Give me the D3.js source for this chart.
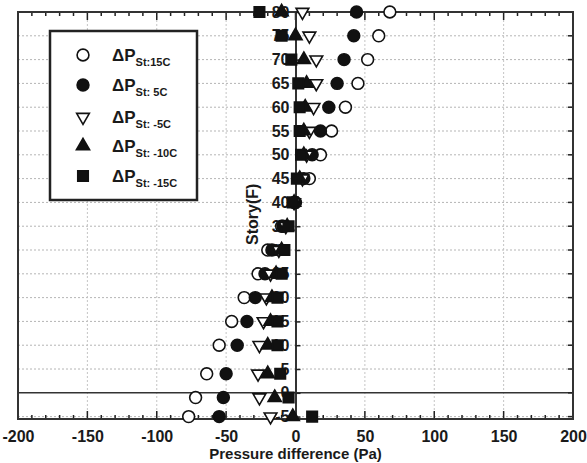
<!DOCTYPE html>
<html>
<head>
<meta charset="utf-8">
<script src="https://cdn.jsdelivr.net/npm/d3@7"></script>
<style>
  body { margin: 0; background: #fff; }
  svg { display: block; font-family: "Liberation Sans", Arial, sans-serif; }
  .tick text { font-weight: bold; fill: #1a1a1a; }
</style>
</head>
<body>
<div id="chart"></div>
<script>
// Stories (floor levels) and pressure difference per outdoor temperature (Pa)
var stories = [80, 75, 70, 65, 60, 55, 50, 45, 40, 35, 30, 25, 20, 15, 10, 4, -1, -5];
var dp15  = [68, 60, 52, 45, 36, 26, 18, 10, -1, -10, -20, -27, -37, -46, -55, -64, -72, -77];
var dp5   = [44, 42, 35, 30, 24, 18, 12, 6, 0, -9, -17, -22, -29, -35, -42, -50, -52, -55];
var dpm5  = [5, 10, 15, 15, 13, 10, 8, 5, -1, -7, -12, -18, -21, -23, -26, -27, -26, -18];
var dpm10 = [-10, 0, 6, 8, 7, 6, 6, 3, -1, -6, -10, -14, -17, -18, -20, -20, -15, -2];
var dpm15 = [-26, -10, -3, 2, 3, 3, 4, 1, -2, -5, -8, -10, -13, -13, -13, -11, -5, 12];

var seriesNames = ["St:15C", "St: 5C", "St: -5C", "St: -10C", "St: -15C"];
var xTicks = [-200, -150, -100, -50, 0, 50, 100, 150, 200];
var yTicks = [-5, 0, 5, 10, 15, 20, 25, 30, 35, 40, 45, 50, 55, 60, 65, 70, 75, 80];

var width = 587, height = 463;
var margin = {top: 12, right: 14, bottom: 44, left: 18};

var svg = d3.select("#chart").append("svg")
  .attr("width", width)
  .attr("height", height);

var x = d3.scaleLinear().domain([-200, 200]).range([margin.left, width - margin.right]);
var y = d3.scaleLinear().domain([-5.5, 80]).range([height - margin.bottom, margin.top]);

// plain hyphen for negatives, like the original
var plain = function(d) { return String(d); };

// series table
var series = [
  {name: seriesNames[0], values: dp15,  type: d3.symbolCircle,   size: 110, fill: "#fff", rot: 0},
  {name: seriesNames[1], values: dp5,   type: d3.symbolCircle,   size: 110, fill: "#111", rot: 0},
  {name: seriesNames[2], values: dpm5,  type: d3.symbolTriangle, size: 70,  fill: "#fff", rot: 180},
  {name: seriesNames[3], values: dpm10, type: d3.symbolTriangle, size: 75,  fill: "#111", rot: 0},
  {name: seriesNames[4], values: dpm15, type: d3.symbolSquare,   size: 110, fill: "#111", rot: 0}
];

// grid
var grid = svg.append("g").attr("class", "grid");
grid.selectAll("line.h")
  .data(yTicks.filter(function(d) { return d !== 0 && d !== 80; }))
  .enter().append("line")
  .attr("x1", x(-200)).attr("x2", x(200))
  .attr("y1", function(d) { return y(d); })
  .attr("y2", function(d) { return y(d); })
  .attr("stroke", "#b5b5b5")
  .attr("stroke-width", 1)
  .attr("stroke-dasharray", "2,2");
grid.selectAll("line.v")
  .data(xTicks.filter(function(d) { return Math.abs(d) !== 200 && d !== 0; }))
  .enter().append("line")
  .attr("x1", function(d) { return x(d); })
  .attr("x2", function(d) { return x(d); })
  .attr("y1", y(80)).attr("y2", y(-5.5))
  .attr("stroke", "#c4c4c4")
  .attr("stroke-width", 1)
  .attr("stroke-dasharray", "2,2");

// ground line
svg.append("line")
  .attr("x1", x(-200)).attr("x2", x(200))
  .attr("y1", y(0)).attr("y2", y(0))
  .attr("stroke", "#333").attr("stroke-width", 1.5);

// minor + major ticks on top and bottom frame
var minor = d3.range(-200, 201, 10);
[y(80), y(-5.5)].forEach(function(yy, k) {
  var dir = k === 0 ? 1 : -1;
  svg.append("g").selectAll("line")
    .data(minor)
    .enter().append("line")
    .attr("x1", function(d) { return x(d); })
    .attr("x2", function(d) { return x(d); })
    .attr("y1", yy - dir * 1)
    .attr("y2", function(d) { return yy + dir * (d % 50 === 0 ? 8 : 4); })
    .attr("stroke", "#222").attr("stroke-width", 1.5);
});

// right frame ticks
svg.append("g").selectAll("line")
  .data(yTicks)
  .enter().append("line")
  .attr("x1", x(200)).attr("x2", x(200) - 5)
  .attr("y1", function(d) { return y(d); })
  .attr("y2", function(d) { return y(d); })
  .attr("stroke", "#222").attr("stroke-width", 1.5);

// frame
svg.append("rect")
  .attr("x", x(-200)).attr("y", y(80))
  .attr("width", x(200) - x(-200))
  .attr("height", y(-5.5) - y(80))
  .attr("fill", "none")
  .attr("stroke", "#333").attr("stroke-width", 2);

// x axis labels
var xAxis = d3.axisBottom(x).tickValues(xTicks).tickFormat(plain).tickSize(0).tickPadding(12);
var gx = svg.append("g")
  .attr("transform", "translate(0," + y(-5.5) + ")")
  .call(xAxis);
gx.select(".domain").remove();
gx.selectAll("text").style("font-size", "16px");

svg.append("text")
  .attr("x", x(0))
  .attr("y", height - 4)
  .attr("text-anchor", "middle")
  .style("font-size", "15px")
  .style("font-weight", "bold")
  .attr("fill", "#1a1a1a")
  .text("Pressure difference (Pa)");

// y axis at x = 0 (labels sit under the markers)
var yAxis = d3.axisLeft(y).tickValues(yTicks).tickFormat(plain)
  .tickSizeInner(-5).tickSizeOuter(0).tickPadding(6);
var gy = svg.append("g")
  .attr("transform", "translate(" + x(0) + ",0)")
  .call(yAxis);
gy.select(".domain").attr("stroke", "#333").attr("stroke-width", 2);
gy.selectAll(".tick line").attr("stroke", "#222").attr("stroke-width", 1.5);
gy.selectAll("text").style("font-size", "16px");

svg.append("text")
  .attr("transform", "translate(" + (x(0) - 38) + "," + y(37.5) + ") rotate(-90)")
  .attr("text-anchor", "middle")
  .style("font-size", "16px")
  .style("font-weight", "bold")
  .attr("fill", "#1a1a1a")
  .text("Story(F)");

// points
series.forEach(function(s) {
  svg.append("g").selectAll("path")
    .data(s.values)
    .enter().append("path")
    .attr("d", d3.symbol().type(s.type).size(s.size))
    .attr("transform", function(d, i) {
      return "translate(" + x(d) + "," + y(stories[i]) + ") rotate(" + s.rot + ")";
    })
    .attr("fill", s.fill)
    .attr("stroke", "#111")
    .attr("stroke-width", 1.6);
});

// legend
var legend = svg.append("g").attr("transform", "translate(50,31)");
legend.append("rect")
  .attr("width", 147).attr("height", 169)
  .attr("fill", "#fff")
  .attr("stroke", "#222").attr("stroke-width", 2.5);

var ly = [24, 54, 86, 115, 145];
series.forEach(function(s, i) {
  var row = legend.append("g").attr("transform", "translate(0," + ly[i] + ")");
  row.append("path")
    .attr("d", d3.symbol().type(s.type).size(s.size))
    .attr("transform", "translate(33,0) rotate(" + s.rot + ")")
    .attr("fill", s.fill)
    .attr("stroke", "#111")
    .attr("stroke-width", 1.6);
  var t = row.append("text")
    .attr("x", 62).attr("y", 6)
    .attr("fill", "#1a1a1a")
    .style("font-weight", "bold")
    .style("font-size", "17px");
  t.append("tspan").text("\u0394P");
  t.append("tspan")
    .attr("dy", 5)
    .style("font-size", "11px")
    .text(s.name);
});
</script>
</body>
</html>
